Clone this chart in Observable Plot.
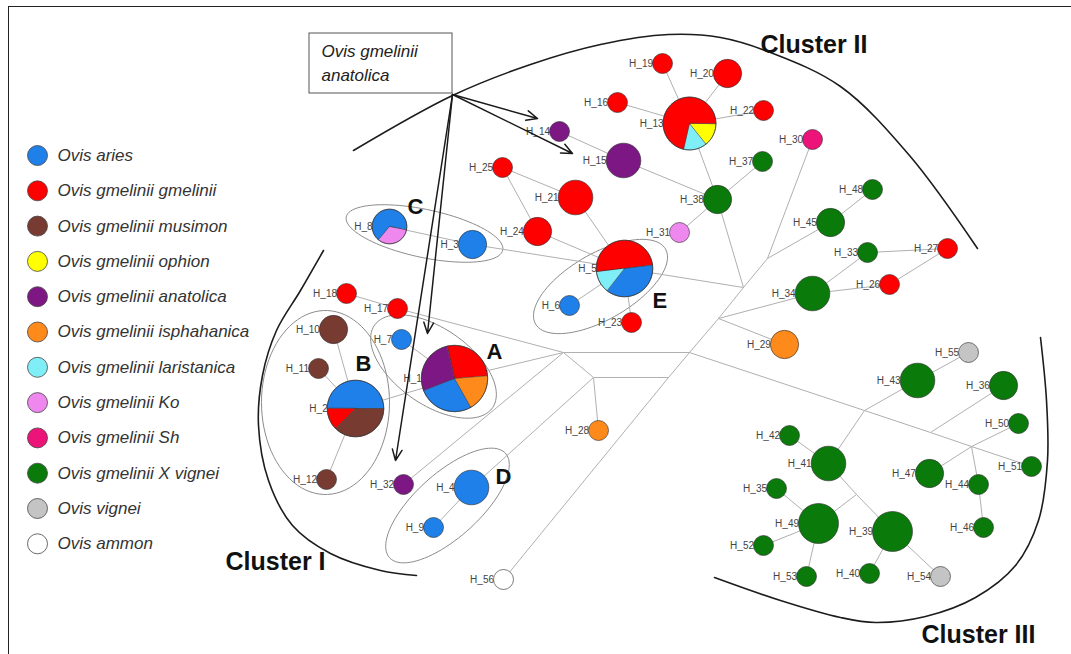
<!DOCTYPE html>
<html>
<head>
<meta charset="utf-8">
<script src="https://cdn.jsdelivr.net/npm/d3@7"></script>
<script src="https://cdn.jsdelivr.net/npm/@observablehq/plot@0.6"></script>
<style>
  html, body { margin: 0; padding: 0; background: #fff; }
  #wrap { position: relative; width: 1071px; height: 654px; overflow: hidden; background: #fff; }
  #frame { position: absolute; left: 8px; top: 6px; right: -4px; bottom: -4px;
           border-top: 1.5px solid #222; border-left: 1.5px solid #222; pointer-events: none; }
</style>
</head>
<body>
<div id="wrap"><div id="chart"></div><div id="frame"></div></div>
<script>
// ---- Taxa (legend order) ----
const species = [
  "Ovis aries", "Ovis gmelinii gmelinii", "Ovis gmelinii musimon", "Ovis gmelinii ophion",
  "Ovis gmelinii anatolica", "Ovis gmelinii isphahanica", "Ovis gmelinii laristanica",
  "Ovis gmelinii Ko", "Ovis gmelinii Sh", "Ovis gmelinii X vignei", "Ovis vignei", "Ovis ammon"
];
const speciesKeys = ["ar", "gm", "mu", "op", "an", "is", "la", "ko", "sh", "xv", "vi", "am"];
const speciesColors = [
  "#1f80ea", "#ff0000", "#773b31", "#ffff00", "#7d1784", "#ff8a1c",
  "#80eef6", "#ee88ee", "#ec1478", "#0a7a0a", "#c4c4c4", "#ffffff"
];

// ---- Haplotypes and their sample counts per taxon ----
const haplotypes = [
  "H_1","H_2","H_3","H_4","H_5","H_6","H_7","H_8","H_9","H_10",
  "H_11","H_12","H_13","H_14","H_15","H_16","H_17","H_18","H_19","H_20",
  "H_21","H_22","H_23","H_24","H_25","H_26","H_27","H_28","H_29","H_30",
  "H_31","H_32","H_33","H_34","H_35","H_36","H_37","H_38","H_39","H_40",
  "H_41","H_42","H_43","H_44","H_45","H_46","H_47","H_48","H_49","H_50",
  "H_51","H_52","H_53","H_54","H_55","H_56"
];
const composition = [
  "gm:3 is:2 ar:3 an:3", "ar:4 mu:3 gm:1", "ar:2", "ar:3", "gm:4 ar:3 la:1",
  "ar:1", "ar:1", "ko:1 ar:2", "ar:1", "mu:2",
  "mu:1", "mu:1", "op:1 la:1 gm:5", "an:1", "an:3",
  "gm:1", "gm:1", "gm:1", "gm:1", "gm:2",
  "gm:3", "gm:1", "gm:1", "gm:2", "gm:1",
  "gm:1", "gm:1", "is:1", "is:2", "sh:1",
  "ko:1", "an:1", "xv:1", "xv:3", "xv:1",
  "xv:2", "xv:1", "xv:2", "xv:4", "xv:1",
  "xv:3", "xv:1", "xv:3", "xv:1", "xv:2",
  "xv:1", "xv:2", "xv:1", "xv:4", "xv:1",
  "xv:1", "xv:1", "xv:1", "vi:1", "vi:1",
  "am:1"
];

// ---- Network layout (drawing units) ----
const hapPos = [
  [454,378],[355,408],[472,244],[471,487],[624,268],[569,305],[401,339],[389,226],[433,527],[333,329],
  [318,368],[326,479],[689,123],[559,131],[623,160],[617,102],[397,308],[346,293],[662,63],[727,73],
  [575,197],[763,110],[631,322],[537,231],[502,167],[889,284],[947,248],[598,430],[784,344],[812,139],
  [679,232],[403,484],[867,252],[812,293],[776,488],[1003,385],[762,161],[717,199],[892,531],[869,573],
  [828,463],[789,435],[917,380],[978,484],[830,222],[983,527],[929,473],[872,189],[818,523],[1018,423],
  [1031,466],[763,545],[806,576],[940,576],[968,352],[503,579]
];
// first slice start, degrees clockwise from 12 o'clock
const pieStart = { H_1: -13, H_2: -90, H_5: 263, H_8: 100, H_13: 90 };
// median (unsampled) vertices
const medianPos = {
  J1: [743,287], J2: [767,258], J3: [718,318], J4: [689,352], J5: [864,410], J6: [930,432],
  J7: [971,446], J8: [856,494], J9: [563,352], J10: [593,377], J11: [668,377]
};
const edges = [
  ["H_19","H_13"],["H_20","H_13"],["H_16","H_13"],["H_22","H_13"],["H_13","H_38"],["H_37","H_38"],
  ["H_15","H_38"],["H_14","H_15"],["H_31","H_38"],["H_38","J1"],["H_5","J1"],["J1","J2"],
  ["J2","H_30"],["J2","H_45"],["H_45","H_48"],["J1","J3"],["J3","H_34"],["J3","H_29"],
  ["H_34","H_33"],["H_33","H_27"],["H_34","H_26"],["H_26","H_27"],["J3","J4"],["J4","J11"],
  ["J11","H_56"],["J9","J4"],["J4","J5"],["J5","J6"],["J6","J7"],["J7","H_51"],["J5","H_43"],
  ["J5","H_41"],["H_43","H_55"],["J6","H_36"],["J7","H_50"],["J7","H_47"],["J7","H_44"],
  ["H_44","H_46"],["H_41","H_42"],["H_41","J8"],["J8","H_39"],["J8","H_49"],["H_49","H_35"],
  ["H_49","H_52"],["H_49","H_53"],["H_39","H_40"],["H_39","H_54"],["J9","H_17"],["H_17","H_18"],
  ["J9","H_1"],["J9","H_32"],["J9","J10"],["J10","J11"],["J10","H_28"],["J10","H_4"],["H_4","H_9"],
  ["H_7","H_1"],["H_2","H_1"],["H_10","H_2"],["H_11","H_2"],["H_12","H_2"],["H_8","H_3"],
  ["H_3","H_5"],["H_21","H_5"],["H_24","H_5"],["H_25","H_21"],["H_25","H_24"],["H_6","H_5"],["H_23","H_5"]
];

// ---- Groupings and annotations ----
const groupNames = ["A", "B", "C", "D", "E"];
const groupEllipses = [
  { cx: 433, cy: 366, rx: 72, ry: 38, rot: 35 },
  { cx: 325, cy: 402, rx: 64, ry: 92, rot: 0 },
  { cx: 424, cy: 233, rx: 80, ry: 24, rot: 12 },
  { cx: 447, cy: 505, rx: 78, ry: 32, rot: -42 },
  { cx: 600, cy: 286, rx: 75, ry: 33, rot: -30 }
];
const groupLabelPos = [[486,351],[355,363],[407,206],[495,476],[652,300]];

const clusterNames = ["Cluster I", "Cluster II", "Cluster III"];
const clusterLabelPos = [[225,561],[760,44],[921,634]];
const clusterOutlines = [
  [[323,250],[300,290],[276,330],[262,375],[258,425],[268,480],[292,525],[330,553],[380,570],[416,575]],
  [[353,150],[452,95],[530,64],[600,44],[668,34],[720,37],[770,52],[840,86],[909,155],[977,248]],
  [[1040,337],[1046,400],[1047,460],[1038,520],[1015,565],[975,597],[925,616],[875,622],[840,617],[780,600],[714,577]]
];

const calloutLines = ["Ovis gmelinii", "anatolica"];
const calloutBox = { x1: 309, y1: 33, x2: 452, y2: 93 };
const calloutTextPos = [[321,51],[321,75]];
const calloutOrigin = [452, 94];
const calloutTargets = [[537,118],[572,153],[427,333],[395,460]];

const legendTop = 155, legendStep = 35.3, legendX = 37;

// ---- Derived tables ----
const rOf = n => 10 * Math.sqrt(n);
const nodes = haplotypes.map((id, i) => {
  const parts = composition[i].split(" ").map(s => {
    const [k, c] = s.split(":");
    return { sp: speciesKeys.indexOf(k), count: +c };
  });
  const n = d3.sum(parts, p => p.count);
  return { id, x: hapPos[i][0], y: hapPos[i][1], parts, n,
           fill: parts.length === 1 ? speciesColors[parts[0].sp] : "none" };
});
const pos = new Map([...nodes.map(d => [d.id, [d.x, d.y]]), ...Object.entries(medianPos)]);
const links = edges.map(([a, b]) => ({ x1: pos.get(a)[0], y1: pos.get(a)[1], x2: pos.get(b)[0], y2: pos.get(b)[1] }));

const slices = [];
nodes.filter(d => d.parts.length > 1).forEach(d => {
  const r = rOf(d.n);
  let a = pieStart[d.id];
  d.parts.forEach((p, j) => {
    const sweep = 360 * p.count / d.n;
    const key = d.id + "-" + j, color = speciesColors[p.sp];
    slices.push({ key, color, x: d.x, y: d.y });
    const steps = Math.max(2, Math.ceil(sweep / 3));
    for (let s = 0; s <= steps; s++) {
      const t = (a + sweep * s / steps) * Math.PI / 180;
      slices.push({ key, color, x: d.x + r * Math.sin(t), y: d.y - r * Math.cos(t) });
    }
    a += sweep;
  });
});

const ellipsePts = [];
groupEllipses.forEach((e, i) => {
  const R = e.rot * Math.PI / 180;
  for (let t = 0; t < 360; t += 4) {
    const u = t * Math.PI / 180, px = e.rx * Math.cos(u), py = e.ry * Math.sin(u);
    ellipsePts.push({ g: groupNames[i], x: e.cx + px * Math.cos(R) - py * Math.sin(R),
                      y: e.cy + px * Math.sin(R) + py * Math.cos(R) });
  }
});
const clusterPts = clusterOutlines.flatMap((pts, i) => pts.map(([x, y]) => ({ c: clusterNames[i], x, y })));
const arrows = calloutTargets.map(([x2, y2]) => ({ x1: calloutOrigin[0], y1: calloutOrigin[1], x2, y2 }));
const legend = species.map((s, i) => ({ label: s, color: speciesColors[i], y: legendTop + i * legendStep }));

const chart = Plot.plot({
  width: 1071, height: 654, margin: 0,
  x: { domain: [0, 1071], range: [0, 1071], axis: null },
  y: { domain: [0, 654], range: [0, 654], axis: null },
  r: { type: "sqrt", domain: [0, 1], range: [0, 10] },
  color: { type: "identity" },
  style: { fontFamily: "'Liberation Sans', Arial, sans-serif", background: "transparent", overflow: "visible" },
  marks: [
    Plot.line(clusterPts, { x: "x", y: "y", z: "c", curve: "catmull-rom", stroke: "#1c1c1c", strokeWidth: 1.6 }),
    Plot.line(ellipsePts, { x: "x", y: "y", z: "g", curve: "linear-closed", stroke: "#8c8c8c", strokeWidth: 1 }),
    Plot.link(links, { x1: "x1", y1: "y1", x2: "x2", y2: "y2", stroke: "#b0b0b0", strokeWidth: 1 }),
    Plot.text(nodes, { x: d => d.x - rOf(d.n) + 0.5, y: "y", text: "id", textAnchor: "end",
                       fontSize: 10, fill: "#444" }),
    Plot.line(slices, { x: "x", y: "y", z: "key", fill: "color", curve: "linear-closed",
                        stroke: "#333", strokeWidth: 0.5 }),
    Plot.dot(nodes, { x: "x", y: "y", r: "n", fill: "fill", stroke: "#333", strokeWidth: 0.8, strokeOpacity: 0.8 }),
    Plot.rect([calloutBox], { x1: "x1", x2: "x2", y1: "y1", y2: "y2", fill: "white", stroke: "#555", strokeWidth: 1 }),
    Plot.text(calloutLines, { x: (d, i) => calloutTextPos[i][0], y: (d, i) => calloutTextPos[i][1], text: d => d,
                              textAnchor: "start", fontSize: 17, fontStyle: "italic", fill: "#222" }),
    Plot.arrow(arrows, { x1: "x1", y1: "y1", x2: "x2", y2: "y2", stroke: "#1a1a1a", strokeWidth: 1.5,
                         headLength: 12, headAngle: 48 }),
    Plot.dot(legend, { x: () => legendX, y: "y", r: () => 1, fill: "color", stroke: "#444", strokeWidth: 0.8 }),
    Plot.text(legend, { x: () => legendX + 20, y: "y", text: "label", textAnchor: "start",
                        fontSize: 17, fontStyle: "italic", fill: "#333" }),
    Plot.text(clusterNames, { x: (d, i) => clusterLabelPos[i][0], y: (d, i) => clusterLabelPos[i][1], text: d => d,
                              textAnchor: "start", fontSize: 25, fontWeight: "bold", fill: "#111" }),
    Plot.text(groupNames, { x: (d, i) => groupLabelPos[i][0], y: (d, i) => groupLabelPos[i][1], text: d => d,
                            textAnchor: "start", fontSize: 22, fontWeight: "bold", fill: "#111" })
  ]
});
document.getElementById("chart").appendChild(chart);
</script>
</body>
</html>
